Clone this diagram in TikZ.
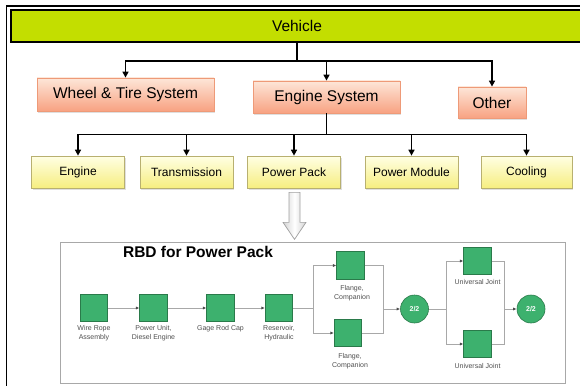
\documentclass[tikz,border=0pt]{standalone}
\usepackage{fontspec}
\setmainfont{Liberation Sans}
\usetikzlibrary{arrows.meta,shadows,calc}
\definecolor{vgreen}{HTML}{C3DE00}
\definecolor{salmonT}{HTML}{FDE6D8}
\definecolor{salmonB}{HTML}{F8A282}
\definecolor{salmonD}{HTML}{EE9A78}
\definecolor{yelT}{HTML}{FFFFE4}
\definecolor{yelB}{HTML}{F6EE80}
\definecolor{yelD}{HTML}{B8B070}
\definecolor{rbdgreen}{HTML}{3DB16E}
\definecolor{rbdgreenD}{HTML}{2A7A4A}
\definecolor{rline}{HTML}{A8A8A8}
\definecolor{lbltext}{HTML}{505050}
\begin{document}
\begin{tikzpicture}[x=1pt,y=-1pt,
  sysbox/.style={draw=salmonD, line width=0.8pt, top color=salmonT, bottom color=salmonB,
    font=\fontsize{15.5}{18}\selectfont, inner sep=0pt,
    drop shadow={shadow xshift=1.2pt, shadow yshift=-1.5pt, opacity=0.25}},
  subbox/.style={draw=yelD, line width=0.7pt, top color=yelT, bottom color=yelB,
    font=\fontsize{12}{14}\selectfont, inner sep=0pt, minimum width=93pt, minimum height=32pt,
    drop shadow={shadow xshift=1.2pt, shadow yshift=-1.5pt, opacity=0.25}},
  tree/.style={line width=1.8pt, draw=black},
  treearr/.style={tree, -{Triangle[length=6pt,width=6pt]}},
  blk/.style={draw=rbdgreenD, line width=0.6pt, fill=rbdgreen, minimum size=27.5pt, inner sep=0pt},
  vote/.style={circle, draw=rbdgreenD, line width=0.6pt, fill=rbdgreen, minimum size=28pt, inner sep=0pt,
    text=white, font=\bfseries\fontsize{7}{8}\selectfont},
  lbl/.style={font=\fontsize{7}{8.5}\selectfont, text=lbltext, align=center, inner sep=0pt, anchor=north},
  rl/.style={draw=rline, line width=0.9pt},
  rarr/.style={rl, -{Latex[length=3.5pt,width=3pt,color=black!70]}}
]
\useasboundingbox (0,0) rectangle (580,385);
\clip (0,0) rectangle (580,385);

% outer frame
\draw[line width=1.6pt] (6.5,390) -- (6.5,6) -- (590,6);

% top bar
\node[draw=black, line width=1.4pt, fill=vgreen, minimum width=572pt, minimum height=32pt, inner sep=0pt,
  font=\fontsize{15.5}{18}\selectfont,
  drop shadow={shadow xshift=1pt, shadow yshift=-1.2pt, opacity=0.3}] (veh) at (297,26) {Vehicle};

% systems
\node[sysbox, minimum width=177pt, minimum height=33pt] (wt) at (125.5,94.5) {Wheel \& Tire System};
\node[sysbox, minimum width=147pt, minimum height=32pt] (es) at (326.5,97) {Engine System};
\node[sysbox, minimum width=68pt, minimum height=31pt] (oth) at (492,102.5) {Other};

\coordinate (j1) at (297,61);
\draw[tree] (veh.south) -- (j1);
\draw[treearr] (j1) -| (wt.north);
\draw[treearr] (j1) -| (oth.north);
\draw[treearr] (j1 -| es.north) -- (es.north);

% subsystems
\node[subbox] (eng) at (78,172) {Engine};
\node[subbox] (tra) at (186.5,172) {Transmission};
\node[subbox] (pp) at (294,172) {Power Pack};
\node[subbox] (pm) at (411.5,172) {Power Module};
\node[subbox, minimum width=91pt] (coo) at (526.5,172) {Cooling};

\coordinate (j2) at ($(es.south)+(0,21)$);
\draw[tree] (es.south) -- (j2);
\foreach \b in {eng,tra,pp,pm,coo} {
  \draw[treearr] (j2) -| (\b.north);
}

% RBD container
\node[draw=rline, line width=1pt, fill=white, minimum width=505pt, minimum height=141pt, inner sep=0pt] (rbd) at (312.5,312.5) {};

% gray block arrow from Power Pack to RBD
\draw[draw=gray!75, line width=0.7pt, left color=gray!35, right color=gray!35, middle color=white, shift={(pp.south)}]
  (-5,4) -- (-5,34) -- (-11,34) -- (0.5,51) -- (12,34) -- (6,34) -- (6,4) -- cycle;

\node[font=\bfseries\fontsize{15.5}{18}\selectfont, inner sep=0pt] (title) at (198,252) {RBD for Power Pack};

% RBD blocks
\node[blk] (wire) at (94,308) {};
\node[blk] (pu) at (153.5,308) {};
\node[blk] (gage) at (220.5,308) {};
\node[blk] (res) at (279,308) {};
\node[blk] (f1) at (350.5,265.5) {};
\node[blk] (f2) at (348,333) {};
\node[vote] (c1) at (414.5,309) {2/2};
\node[blk] (u1) at (477.5,261) {};
\node[blk] (u2) at (477.5,344) {};
\node[vote] (c2) at (531,309) {2/2};

% labels
\node[lbl] (lwire) at (94,325.5) {Wire Rope\\Assembly};
\node[lbl] (lpu) at (153.5,325.5) {Power Unit,\\Diesel Engine};
\node[lbl] (lgage) at (220.5,325.5) {Gage Rod Cap};
\node[lbl] (lres) at (279,325.5) {Reservoir,\\Hydraulic};
\node[lbl] (lf1) at (352,285.5) {Flange,\\Companion};
\node[lbl] (lf2) at (350,353.5) {Flange,\\Companion};
\node[lbl] (lu1) at (477.5,279.5) {Universal Joint};
\node[lbl] (lu2) at (477.5,363.5) {Universal Joint};

% RBD connectors
\draw[rarr] (wire) -- (pu);
\draw[rarr] (pu) -- (gage);
\draw[rarr] (gage) -- (res);
\coordinate (s1) at (313,308);
\draw[rl] (res) -- (s1);
\draw[rarr] (s1) |- (f1);
\draw[rarr] (s1) |- (f2);
\coordinate (m1) at (383,309);
\draw[rl] (f1) -| (m1);
\draw[rl] (f2) -| (m1);
\draw[rarr] (m1) -- (c1);
\coordinate (s2) at (446,309);
\draw[rl] (c1) -- (s2);
\draw[rarr] (s2) |- (u1);
\draw[rarr] (s2) |- (u2);
\coordinate (m2) at (504,309);
\draw[rl] (u1) -| (m2);
\draw[rl] (u2) -| (m2);
\draw[rarr] (m2) -- (c2);
\end{tikzpicture}
\end{document}
